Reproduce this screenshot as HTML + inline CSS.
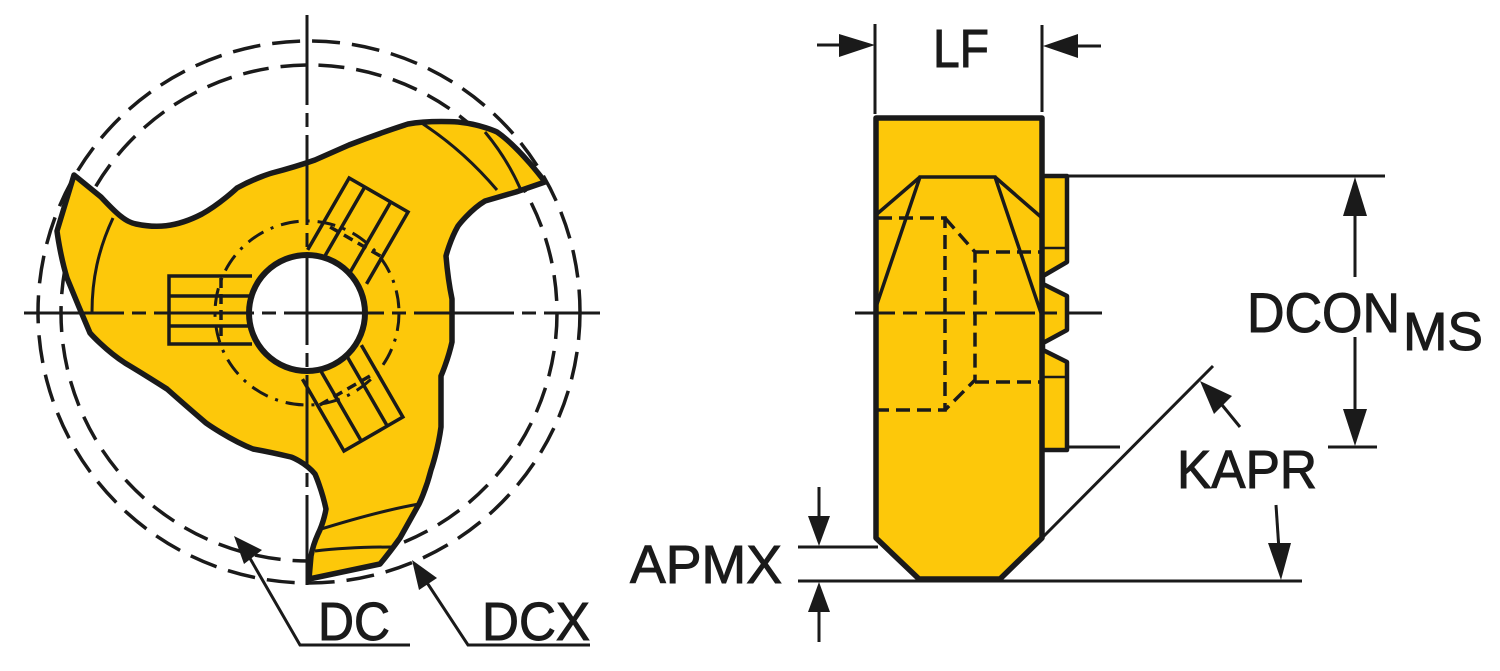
<!DOCTYPE html>
<html><head><meta charset="utf-8"><style>
html,body{margin:0;padding:0;background:#fff;}
svg{display:block;}
text{font-family:"Liberation Sans",sans-serif;fill:#1a1a1a;stroke:#1a1a1a;stroke-width:1;}
</style></head><body>
<svg width="1500" height="671" viewBox="0 0 1500 671" xmlns="http://www.w3.org/2000/svg">
<g stroke="#1a1a1a" fill="none">
<circle cx="309" cy="312" r="271" stroke-width="3.5" stroke-dasharray="28 12"/>
<circle cx="309" cy="313" r="248" stroke-width="3.5" stroke-dasharray="26 12"/>
<path d="M74,175 L101,197 C115,212 125,222 136,224 C155,228 175,228 202,214 C220,204 237,188 237,188 C255,178 272,173 272,173 C295,167 315,160 315,160 L349,145 C380,133 408,124 408,124 C430,120 458,122 458,122 C480,124 497,132 497,132 C520,148 545,182 545,182 L516,192 L485,201 C470,210 458,226 458,226 C450,240 446,256 446,256 C448,280 452,299 452,299 L452,342 C448,360 441,376 441,376 L441,427 C438,450 431,470 431,470 C426,490 419,504 419,504 C410,520 400,538 400,538 C390,552 380,564 380,564 L309,579 L311,556 C313,545 318,534 318,534 C324,522 326,509 326,509 C322,490 315,474 315,474 C305,462 291,457 291,457 C270,452 253,449 253,449 C230,440 206,423 206,423 C185,405 167,389 167,389 C145,375 125,363 125,363 C105,350 90,333 90,333 C78,305 67,278 67,278 C60,255 57,231 57,231 Z" fill="#fdc80a" stroke-width="5.5" stroke-linejoin="round"/>
<path d="M113,218 C98,250 92,280 92,312" stroke-width="3"/>
<path d="M423,124 C455,145 480,170 497,190" stroke-width="3"/>
<path d="M485,132 C500,150 512,170 520,188" stroke-width="3"/>
<path d="M318,530 C350,520 385,510 419,504" stroke-width="3"/>
<path d="M315,551 C340,548 365,547 392,547" stroke-width="3"/>
<circle cx="307" cy="313" r="92" stroke-width="3" stroke-dasharray="18 8 3 8"/>
<g id="slot" stroke-width="3.5">
<path d="M252,276 L169,276 L169,344 L252,344"/>
<line x1="169" y1="296" x2="250" y2="296"/>
<line x1="169" y1="326" x2="250" y2="326"/>
<line x1="221" y1="278" x2="221" y2="342" stroke-dasharray="10 6"/>
</g>
<use href="#slot" transform="rotate(120 307 313)"/>
<use href="#slot" transform="rotate(-120 307 313)"/>
<circle cx="307" cy="313" r="58" fill="#fff" stroke-width="6"/>
<line x1="307" y1="15" x2="307" y2="585" stroke-width="3" stroke-dasharray="90 8 14 8"/>
<line x1="24" y1="313" x2="600" y2="313" stroke-width="3" stroke-dasharray="100 8 14 8"/>
<polyline points="244,548 300,645 410,645" stroke-width="3"/>
<polyline points="420,572 468,645 590,645" stroke-width="3"/>
</g>
<g fill="#1a1a1a">
<polygon points="234,536 262,550 244,564"/>
<polygon points="412,560 437,578 419,590"/>
</g>
<text x="318" y="640" font-size="54" textLength="72" lengthAdjust="spacingAndGlyphs">DC</text>
<text x="482" y="640" font-size="54" textLength="108" lengthAdjust="spacingAndGlyphs">DCX</text>

<g stroke="#1a1a1a" fill="none">
<path d="M1042,176 L1067,176 L1067,262 L1043,276 L1043,284 L1067,296 L1067,330 L1043,343 L1043,350 L1067,362 L1067,450 L1042,450 Z" fill="#fdc80a" stroke-width="4.5" stroke-linejoin="round"/>
<line x1="1043" y1="248" x2="1067" y2="248" stroke-width="2.5"/>
<line x1="1043" y1="377" x2="1067" y2="377" stroke-width="2.5"/>
<path d="M876,118 L1042,118 L1042,538 L1000,579 L919,579 L876,538 Z" fill="#fdc80a" stroke-width="5.5" stroke-linejoin="round"/>
<polyline points="876,307 920,177 995,177 1041,313" stroke-width="3.5"/>
<line x1="920" y1="177" x2="877" y2="214" stroke-width="3.5"/>
<line x1="995" y1="177" x2="1041" y2="217" stroke-width="3.5"/>
<g stroke-width="3.5" stroke-dasharray="14 7">
<polyline points="878,218 945,218 945,410 878,410"/>
<polyline points="945,218 975,252 975,380 945,410"/>
<line x1="975" y1="252" x2="1043" y2="252"/>
<line x1="975" y1="382" x2="1042" y2="382"/>
</g>
<line x1="855" y1="313" x2="1102" y2="313" stroke-width="3" stroke-dasharray="40 8 14 8"/>
<line x1="798" y1="547" x2="878" y2="547" stroke-width="3"/>
<line x1="798" y1="581" x2="1302" y2="581" stroke-width="3"/>
<line x1="819" y1="487" x2="819" y2="520" stroke-width="3"/>
<line x1="819" y1="610" x2="819" y2="642" stroke-width="3"/>
<line x1="875" y1="24" x2="875" y2="114" stroke-width="3"/>
<line x1="1042" y1="25" x2="1042" y2="112" stroke-width="3"/>
<line x1="817" y1="45" x2="845" y2="45" stroke-width="3"/>
<line x1="1072" y1="46" x2="1101" y2="46" stroke-width="3"/>
<line x1="1067" y1="176" x2="1385" y2="176" stroke-width="3"/>
<line x1="1067" y1="447" x2="1120" y2="447" stroke-width="3"/>
<line x1="1328" y1="447" x2="1377" y2="447" stroke-width="3"/>
<line x1="1355" y1="200" x2="1355" y2="277" stroke-width="3"/>
<line x1="1355" y1="337" x2="1355" y2="420" stroke-width="3"/>
<line x1="1042" y1="538" x2="1213" y2="366" stroke-width="3"/>
<line x1="1240" y1="427" x2="1218" y2="400" stroke-width="3"/>
<line x1="1276" y1="505" x2="1279" y2="550" stroke-width="3"/>
</g>
<g fill="#1a1a1a">
<polygon points="808,516 830,516 819,546"/>
<polygon points="808,612 830,612 819,582"/>
<polygon points="839,34 839,57 875,45"/>
<polygon points="1078,34 1078,58 1043,46"/>
<polygon points="1343,216 1367,216 1355,177"/>
<polygon points="1343,409 1367,409 1355,446"/>
<polygon points="1200,381 1232,396 1214,414"/>
<polygon points="1268,543 1291,543 1281,580"/>
</g>
<text x="933" y="67" font-size="54" textLength="56" lengthAdjust="spacingAndGlyphs">LF</text>
<text x="630" y="583" font-size="54" textLength="152" lengthAdjust="spacingAndGlyphs">APMX</text>
<text x="1247" y="332" font-size="56" textLength="153" lengthAdjust="spacingAndGlyphs">DCON</text>
<text x="1403" y="350" font-size="54" textLength="80" lengthAdjust="spacingAndGlyphs">MS</text>
<text x="1177" y="488" font-size="54" textLength="140" lengthAdjust="spacingAndGlyphs">KAPR</text>
</svg>
</body></html>
